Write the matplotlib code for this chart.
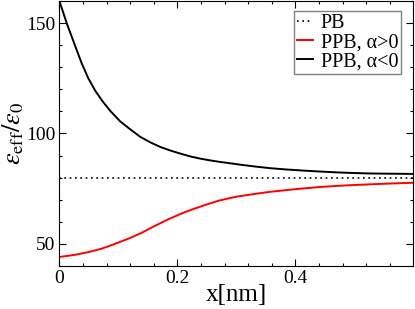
import matplotlib
matplotlib.use("Agg")
import matplotlib.pyplot as plt
from matplotlib.ticker import MultipleLocator

plt.rcParams['font.family'] = ['Liberation Serif', 'DejaVu Serif']
plt.rcParams['mathtext.fontset'] = 'stix'

# values
x_neg = [0.0, 0.007, 0.0125, 0.021, 0.0295, 0.038, 0.049, 0.0605, 0.072, 0.086,
         0.103, 0.12, 0.137, 0.154, 0.171, 0.188, 0.205, 0.222, 0.239, 0.256,
         0.273, 0.29, 0.306, 0.33, 0.357, 0.385, 0.414, 0.44, 0.47, 0.5,
         0.527, 0.56, 0.6]
y_neg = [160.0, 154.4, 149.9, 143.8, 137.7, 131.7, 125.0, 119.5, 115.0, 110.3,
         105.5, 101.9, 98.5, 96.0, 93.9, 92.3, 90.9, 89.6, 88.6, 87.8,
         87.1, 86.5, 85.9, 85.1, 84.3, 83.7, 83.2, 82.8, 82.4, 82.1,
         81.9, 81.8, 81.7]

x_pos = [0.0, 0.027, 0.049, 0.072, 0.094, 0.117, 0.14, 0.162, 0.185, 0.207,
         0.227, 0.25, 0.27, 0.298, 0.33, 0.357, 0.4, 0.442, 0.485, 0.527,
         0.565, 0.6]
y_pos = [44.1, 45.1, 46.3, 47.9, 50.0, 52.4, 55.1, 58.2, 61.2, 63.8,
         65.8, 67.9, 69.6, 71.3, 72.6, 73.6, 74.8, 75.8, 76.5, 77.0,
         77.4, 77.7]

x_pb = [0.0, 0.6]
y_pb = [80.0, 80.0]

fig = plt.figure(figsize=(4.15, 3.09), dpi=100)
ax = fig.add_axes([0.143, 0.139, 0.852, 0.858])

ax.plot(x_pb, y_pb, color='black', linestyle=(0, (1, 2.2)), lw=1.2, label='PB')
ax.plot(x_pos, y_pos, color='red', lw=1.4, label='PPB, α>0')
ax.plot(x_neg, y_neg, color='black', lw=1.4, label='PPB, α<0')

ax.set_xlim(0, 0.599)
ax.set_ylim(40, 160)
ax.xaxis.set_minor_locator(MultipleLocator(0.04))
ax.yaxis.set_major_locator(MultipleLocator(50))
ax.yaxis.set_minor_locator(MultipleLocator(10))
ax.set_xticks([0, 0.2, 0.4])
ax.set_xticklabels(['0', '0.2', '0.4'])
ax.tick_params(which='both', direction='in', top=True, right=True, labelsize=14)
ax.tick_params(which='major', length=5, width=0.8, pad=3)
ax.tick_params(which='minor', length=2.5, width=0.8)

ax.set_xlabel('x[nm]', fontsize=18, labelpad=-2)
ax.set_ylabel(r'$\varepsilon_{\rm eff}/\varepsilon_0$', fontsize=19, labelpad=0)

leg = ax.legend(loc='upper right', bbox_to_anchor=(0.967, 0.962), fontsize=14.5,
                handlelength=0.8, handletextpad=0.4, borderpad=0.15, labelspacing=0.0,
                fancybox=False, framealpha=1, borderaxespad=0)
leg.get_frame().set_edgecolor('gray')
leg.get_frame().set_linewidth(1.0)

plt.savefig('out.png', dpi=100)
